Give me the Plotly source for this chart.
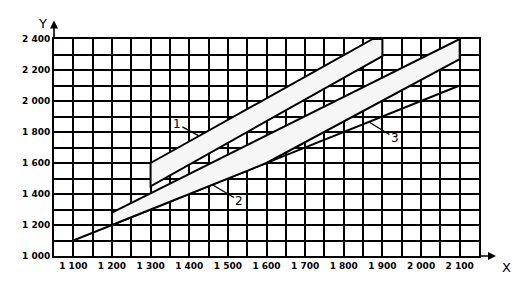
import plotly.graph_objects as go

# Data
x_ticks = [1100, 1200, 1300, 1400, 1500, 1600, 1700, 1800, 1900, 2000, 2100]
x_labels = ["1 100", "1 200", "1 300", "1 400", "1 500", "1 600", "1 700", "1 800", "1 900", "2 000", "2 100"]
y_ticks = [1000, 1200, 1400, 1600, 1800, 2000, 2200, 2400]
y_labels = ["1 000", "1 200", "1 400", "1 600", "1 800", "2 000", "2 200", "2 400"]

band1_x = [1300, 1875, 1900, 1900, 1300, 1300]
band1_y = [1600, 2400, 2400, 2290, 1450, 1600]
band2_x = [1200, 2100, 2100, 1600, 1200, 1200]
band2_y = [1280, 2400, 2270, 1600, 1200, 1280]
line3_x = [1100, 2100]
line3_y = [1100, 2100]

labels = ["1", "2", "3"]
label_x = [1425, 1460, 1865]
label_y = [1775, 1460, 1865]
label_ax = [-22, 27, 26]
label_ay = [-12, 16, 16]

fig = go.Figure()
fig.add_trace(go.Scatter(x=line3_x, y=line3_y, mode="lines",
                         line=dict(color="black", width=2), hoverinfo="skip"))
fig.add_trace(go.Scatter(x=band2_x, y=band2_y, mode="lines", fill="toself",
                         fillcolor="#f6f6f6", line=dict(color="black", width=2),
                         hoverinfo="skip"))
fig.add_trace(go.Scatter(x=band1_x, y=band1_y, mode="lines", fill="toself",
                         fillcolor="#f6f6f6", line=dict(color="black", width=2),
                         hoverinfo="skip"))

x_grid = list(range(1050, 2151, 50))
x_text = [x_labels[x_ticks.index(v)] if v in x_ticks else "" for v in x_grid]
y_grid = list(range(1000, 2401, 100))
y_text = [y_labels[y_ticks.index(v)] if v in y_ticks else "" for v in y_grid]

tick_font = dict(family="DejaVu Sans", size=9, color="black", weight="bold")

fig.update_xaxes(range=[1050, 2150], tickvals=x_grid, ticktext=x_text,
                 showgrid=True, gridcolor="black", gridwidth=1.6,
                 showline=True, linecolor="black", linewidth=2, mirror=True,
                 zeroline=False, ticks="", tickfont=tick_font)
fig.update_yaxes(range=[1000, 2400], tickvals=y_grid, ticktext=y_text,
                 showgrid=True, gridcolor="black", gridwidth=1.6,
                 showline=True, linecolor="black", linewidth=2, mirror=True,
                 zeroline=False, ticks="", tickfont=tick_font)

for t, x, y, ax, ay in zip(labels, label_x, label_y, label_ax, label_ay):
    fig.add_annotation(x=x, y=y, text=t, showarrow=True, arrowhead=0,
                       arrowwidth=1.3, arrowcolor="black", ax=ax, ay=ay,
                       font=dict(family="DejaVu Sans", size=12, color="black"))

# axis arrows
fig.add_annotation(xref="paper", yref="paper", x=0, y=1.085, ax=0, ay=19,
                   showarrow=True, arrowhead=2, arrowsize=1, arrowwidth=1.6,
                   arrowcolor="black", text="")
fig.add_annotation(xref="paper", yref="paper", x=1.04, y=0, ax=-17, ay=0,
                   showarrow=True, arrowhead=2, arrowsize=1, arrowwidth=1.6,
                   arrowcolor="black", text="")
fig.add_annotation(xref="paper", yref="paper", x=-0.012, y=1.07, text="Y",
                   showarrow=False, xanchor="right", yanchor="middle",
                   font=dict(family="DejaVu Sans", size=13, color="black"))
fig.add_annotation(xref="paper", yref="paper", x=1.05, y=-0.055, text="X",
                   showarrow=False, xanchor="left", yanchor="middle",
                   font=dict(family="DejaVu Sans", size=13, color="black"))

fig.update_layout(width=525, height=287, showlegend=False,
                  margin=dict(l=54, r=46, t=39, b=31),
                  plot_bgcolor="white", paper_bgcolor="white")

fig.write_html("out.html")
